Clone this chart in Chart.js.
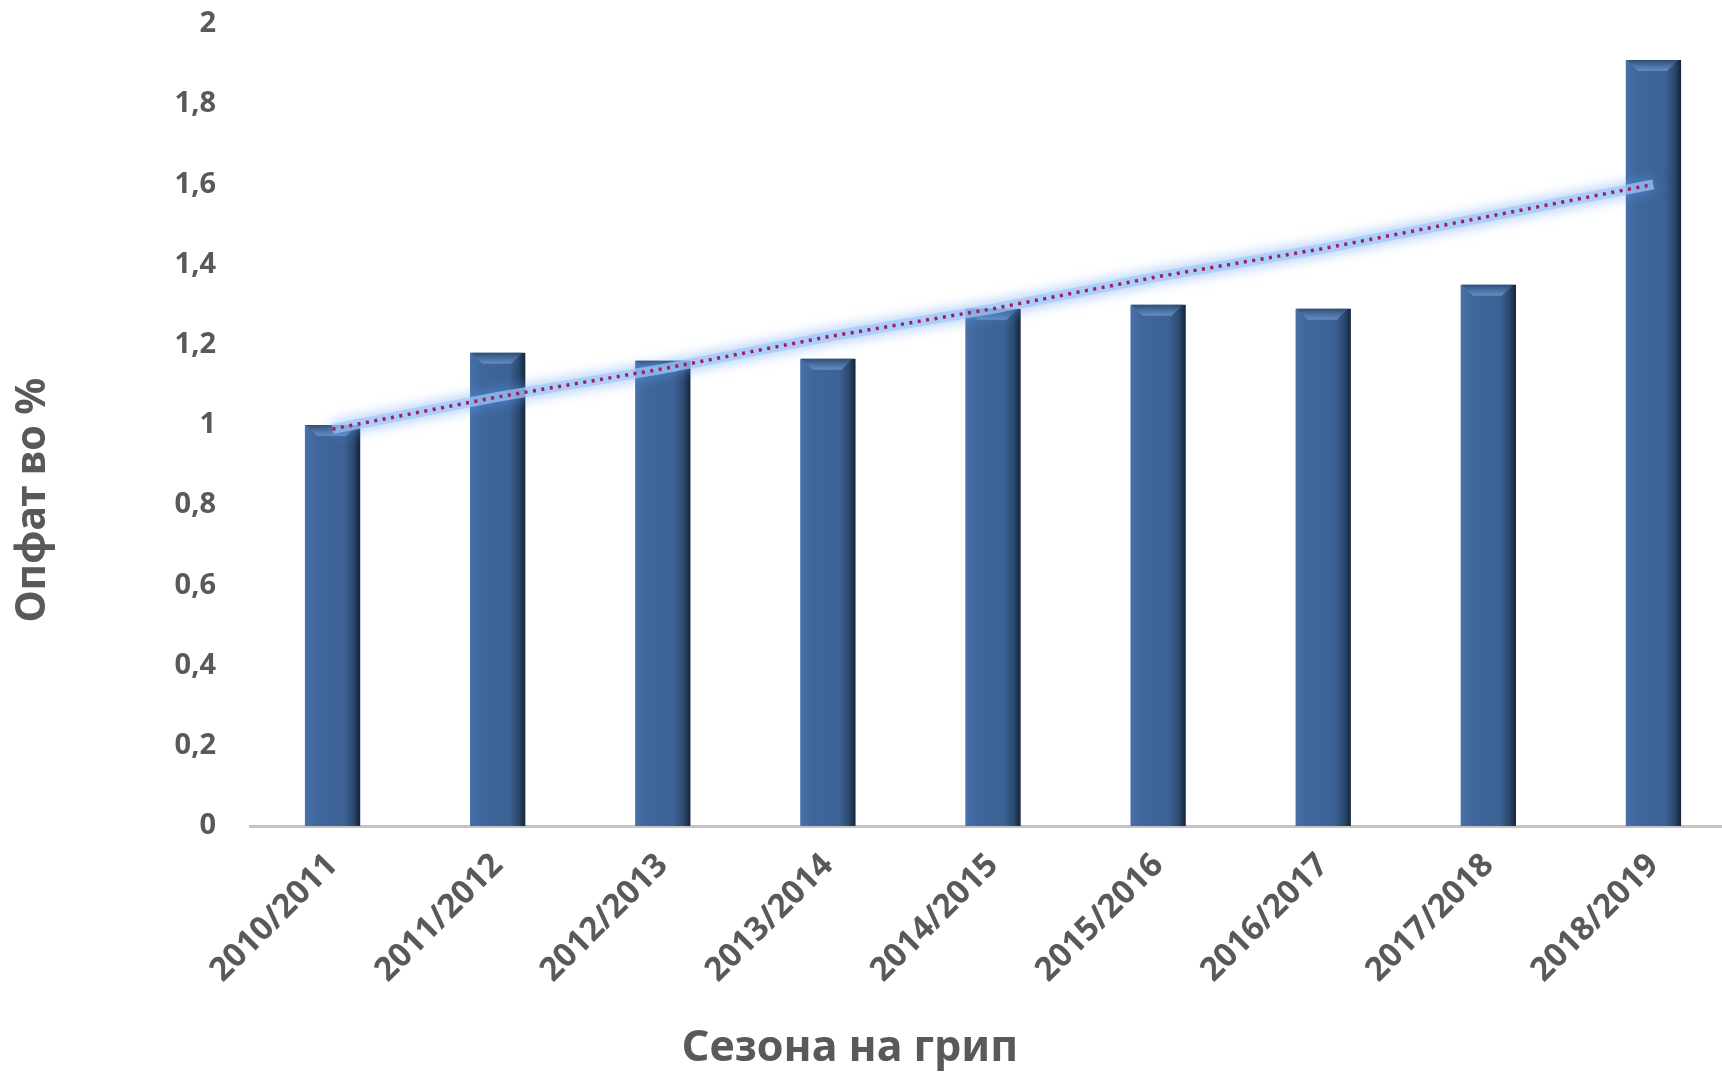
<!DOCTYPE html>
<html lang="mk">
<head>
  <meta charset="UTF-8">
  <title>Опфат во %</title>
  <script src="https://cdn.jsdelivr.net/npm/chart.js"></script>
  <style>
    html, body { margin: 0; padding: 0; background: #fff; overflow: hidden; }
    #wrap { width: 1736px; height: 1076px; position: relative; }
  </style>
</head>
<body>
  <div id="wrap">
    <canvas id="coverageChart"></canvas>
  </div>
  <script>
    // Data
    const seasons = ['2010/2011', '2011/2012', '2012/2013', '2013/2014', '2014/2015',
                     '2015/2016', '2016/2017', '2017/2018', '2018/2019'];
    const coverage = [1.00, 1.18, 1.16, 1.165, 1.29, 1.30, 1.29, 1.35, 1.91];
    const trend = [0.99, 1.07, 1.14, 1.22, 1.29, 1.37, 1.44, 1.52, 1.60];
    const yTickLabels = ['0', '0,2', '0,4', '0,6', '0,8', '1', '1,2', '1,4', '1,6', '1,8', '2'];
    const xTitle = 'Сезона на грип';
    const yTitle = 'Опфат во %';

    const textGrey = '#595959';
    const fontFamily = "'Noto Sans', 'DejaVu Sans', sans-serif";
    const barPct = 0.335;

    // horizontal shading for the bars, based on the category scale
    function barFill(c) {
      const chart = c.chart;
      const xs = chart.scales.x;
      if (!xs || c.dataIndex === undefined || !xs.width) return '#3c6294';
      const cx = xs.getPixelForValue(c.dataIndex);
      const w = (xs.width / seasons.length) * barPct;
      const g = chart.ctx.createLinearGradient(cx - w / 2, 0, cx + w / 2, 0);
      g.addColorStop(0, '#4771a8');
      g.addColorStop(0.2, '#40679c');
      g.addColorStop(0.7, '#3c6296');
      g.addColorStop(0.87, '#2d4b72');
      g.addColorStop(1, '#15233a');
      return g;
    }

    // light bevel on top of each bar, soft glow under the trend line
    const effects = {
      id: 'effects',
      beforeDatasetDraw(chart, args) {
        if (args.meta.type === 'line' && args.index === 0) {
          chart.ctx.save();
          chart.ctx.shadowColor = 'rgba(90,155,240,0.95)';
          chart.ctx.shadowBlur = 14;
        }
      },
      afterDatasetDraw(chart, args) {
        const ctx = chart.ctx;
        if (args.meta.type === 'line' && args.index === 0) {
          ctx.restore();
          return;
        }
        if (args.meta.type !== 'bar') return;
        args.meta.data.forEach(el => {
          const l = el.x - el.width / 2, r = el.x + el.width / 2, t = el.y, d = 11;
          const g = ctx.createLinearGradient(0, t, 0, t + d);
          g.addColorStop(0, 'rgba(45,75,115,0.9)');
          g.addColorStop(1, 'rgba(110,150,205,0.8)');
          ctx.save();
          ctx.beginPath();
          ctx.moveTo(l + 1, t);
          ctx.lineTo(r - 3, t);
          ctx.lineTo(r - d - 3, t + d);
          ctx.lineTo(l + d + 1, t + d);
          ctx.closePath();
          ctx.fillStyle = g;
          ctx.fill();
          ctx.restore();
        });
      }
    };

    // axis titles
    const axisTitles = {
      id: 'axisTitles',
      afterDraw(chart) {
        const ctx = chart.ctx;
        ctx.save();
        ctx.fillStyle = textGrey;
        ctx.font = 'bold 43px ' + fontFamily;
        ctx.textAlign = 'center';
        ctx.textBaseline = 'middle';
        ctx.fillText(xTitle, 850, 1049);
        ctx.font = 'bold 41px ' + fontFamily;
        ctx.translate(33, 500);
        ctx.rotate(-Math.PI / 2);
        ctx.fillText(yTitle, 0, 0);
        ctx.restore();
      }
    };

    const ctx = document.getElementById('coverageChart').getContext('2d');
    new Chart(ctx, {
      data: {
        labels: seasons,
        datasets: [
          {
            type: 'line',
            data: trend,
            borderColor: 'rgba(160,200,250,0.7)',
            borderWidth: 10,
            borderCapStyle: 'butt',
            pointRadius: 0,
            fill: false,
            order: 1
          },
          {
            type: 'line',
            data: trend,
            borderColor: '#a01f5a',
            borderWidth: 3.5,
            borderDash: [3, 5.5],
            pointRadius: 0,
            fill: false,
            order: 0
          },
          {
            type: 'bar',
            data: coverage,
            backgroundColor: barFill,
            borderWidth: 0,
            barPercentage: barPct,
            categoryPercentage: 1,
            order: 5
          }
        ]
      },
      options: {
        responsive: true,
        maintainAspectRatio: false,
        animation: false,
        layout: { padding: { top: 24, left: 0, right: 0, bottom: 0 } },
        plugins: {
          legend: { display: false },
          tooltip: { enabled: false }
        },
        scales: {
          x: {
            grid: { display: false, drawTicks: false },
            border: { display: true, color: '#c4c4c4', width: 3 },
            ticks: {
              color: textGrey,
              font: { family: fontFamily, size: 33, weight: 'bold' },
              minRotation: 45,
              maxRotation: 45,
              autoSkip: false,
              padding: 20
            },
            afterFit(scale) {
              scale.height = 250;
              scale.paddingLeft = 0;
              scale.paddingRight = 0;
            }
          },
          y: {
            min: 0,
            max: 2,
            grid: { display: false, drawTicks: false },
            border: { display: false },
            ticks: {
              stepSize: 0.2,
              color: textGrey,
              font: { family: fontFamily, size: 29, weight: 'bold' },
              padding: 34,
              callback: (v, i) => yTickLabels[i]
            },
            afterFit(scale) {
              scale.width = 250;
              scale.paddingTop = 0;
              scale.paddingBottom = 0;
            }
          }
        }
      },
      plugins: [effects, axisTitles]
    });
  </script>
</body>
</html>
